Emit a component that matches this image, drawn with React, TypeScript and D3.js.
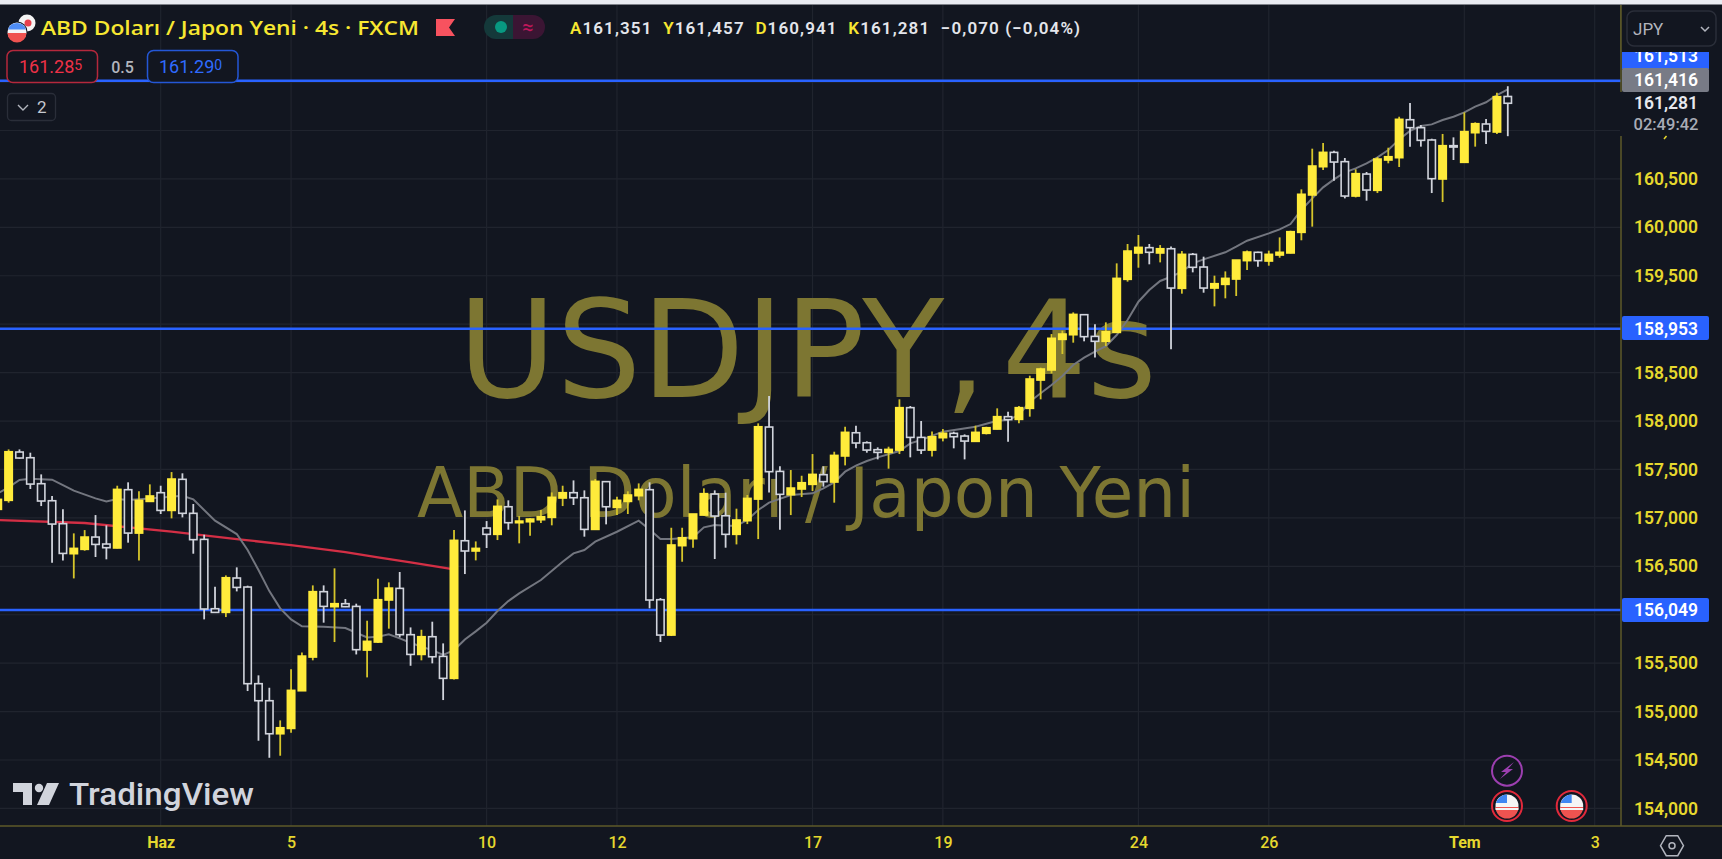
import React, { useRef, useEffect } from 'react';
import * as d3 from 'd3';

const WIDTH = 1722;
const HEIGHT = 859;

// one entry per 4h candle
const opens = [
    157.088, 157.181, 157.680, 157.621, 157.353, 157.177, 156.940, 156.630, 156.675, 156.802,
    156.730, 156.689, 157.291, 156.843, 157.170, 157.260, 157.077, 157.398, 157.047, 156.778,
    156.062, 156.024, 156.379, 156.286, 155.288, 155.112, 154.771, 154.826, 155.215, 155.563,
    156.238, 156.083, 156.114, 156.086, 155.635, 155.718, 156.152, 156.272, 155.794, 155.590,
    155.773, 155.570, 155.343, 156.764, 156.658, 156.895, 156.830, 157.115, 156.950, 156.960,
    156.981, 157.005, 157.205, 157.260, 157.208, 156.881, 157.374, 157.108, 157.170, 157.229,
    157.291, 156.155, 155.790, 156.713, 156.785, 157.029, 157.246, 157.022, 156.830, 156.971,
    157.194, 157.938, 157.480, 157.239, 157.298, 157.346, 157.446, 157.370, 157.639, 157.879,
    157.776, 157.704, 157.676, 157.700, 158.138, 157.831, 157.700, 157.828, 157.873, 157.845,
    157.790, 157.873, 157.917, 158.045, 158.017, 158.131, 158.423, 158.527, 158.843, 158.891,
    159.098, 158.874, 158.823, 158.915, 159.463, 159.735, 159.790, 159.735, 159.779, 159.370,
    159.721, 159.590, 159.373, 159.411, 159.466, 159.656, 159.742, 159.652, 159.714, 159.735,
    159.948, 160.334, 160.626, 160.774, 160.678, 160.323, 160.550, 160.382, 160.695, 160.719,
    161.111, 161.029, 160.902, 160.499, 160.843, 160.671, 160.977, 161.067, 160.984, 161.351,
];
const closes = [
    157.191, 157.683, 157.618, 157.349, 157.174, 156.936, 156.633, 156.685, 156.802, 156.726,
    156.692, 157.294, 156.843, 157.181, 157.226, 157.077, 157.401, 157.047, 156.775, 156.059,
    156.024, 156.382, 156.282, 155.288, 155.112, 154.771, 154.833, 155.219, 155.573, 156.238,
    156.086, 156.114, 156.083, 155.639, 155.725, 156.155, 156.275, 155.794, 155.590, 155.773,
    155.566, 155.343, 156.768, 156.658, 156.685, 156.830, 157.119, 156.950, 156.967, 156.988,
    157.012, 157.212, 157.260, 157.208, 156.881, 157.377, 157.115, 157.181, 157.236, 157.294,
    156.152, 155.790, 156.720, 156.795, 157.040, 157.250, 157.019, 156.830, 156.978, 157.201,
    157.941, 157.477, 157.243, 157.308, 157.363, 157.449, 157.374, 157.645, 157.883, 157.773,
    157.700, 157.676, 157.707, 158.138, 157.831, 157.700, 157.838, 157.873, 157.838, 157.793,
    157.883, 157.931, 158.045, 158.014, 158.138, 158.434, 158.537, 158.854, 158.898, 159.101,
    158.871, 158.823, 158.922, 159.473, 159.755, 159.793, 159.742, 159.779, 159.373, 159.721,
    159.587, 159.373, 159.418, 159.473, 159.662, 159.745, 159.656, 159.721, 159.742, 159.955,
    160.341, 160.633, 160.774, 160.674, 160.323, 160.554, 160.385, 160.705, 160.729, 161.115,
    161.029, 160.898, 160.502, 160.843, 160.829, 160.988, 161.070, 160.991, 161.349, 161.281,
];
const highs = [
    157.253, 157.707, 157.707, 157.673, 157.449, 157.226, 157.088, 156.840, 156.874, 157.029,
    156.923, 157.332, 157.367, 157.274, 157.346, 157.332, 157.473, 157.460, 157.143, 156.826,
    156.289, 156.406, 156.489, 156.300, 155.374, 155.246, 154.909, 155.436, 155.611, 156.303,
    156.303, 156.479, 156.162, 156.114, 155.938, 156.372, 156.334, 156.441, 155.869, 155.845,
    155.928, 155.704, 156.874, 157.077, 156.757, 156.967, 157.191, 157.181, 157.019, 156.995,
    157.081, 157.263, 157.332, 157.387, 157.284, 157.401, 157.380, 157.219, 157.274, 157.356,
    157.367, 156.172, 156.898, 156.898, 157.040, 157.305, 157.284, 157.260, 157.095, 157.236,
    157.976, 158.258, 157.532, 157.494, 157.435, 157.659, 157.532, 157.683, 157.941, 157.952,
    157.790, 157.728, 157.735, 158.224, 158.155, 158.000, 157.893, 157.917, 157.890, 157.862,
    157.952, 157.941, 158.131, 158.096, 158.155, 158.468, 158.551, 158.898, 158.933, 159.122,
    159.105, 158.998, 159.019, 159.628, 159.828, 159.921, 159.828, 159.817, 159.803, 159.755,
    159.735, 159.697, 159.501, 159.545, 159.662, 159.762, 159.748, 159.759, 159.896, 159.965,
    160.392, 160.812, 160.871, 160.791, 160.716, 160.599, 160.571, 160.726, 160.822, 161.142,
    161.284, 161.056, 160.915, 160.964, 160.929, 161.187, 161.084, 161.118, 161.390, 161.457,
];
const lows = [
    157.064, 157.157, 157.611, 157.298, 157.122, 156.537, 156.561, 156.375, 156.661, 156.596,
    156.572, 156.685, 156.744, 156.561, 157.170, 157.040, 156.995, 157.005, 156.630, 155.952,
    156.021, 155.976, 156.241, 155.212, 154.699, 154.523, 154.544, 154.782, 155.212, 155.529,
    155.918, 155.718, 156.079, 155.590, 155.353, 155.708, 155.856, 155.766, 155.473, 155.529,
    155.498, 155.119, 155.332, 156.420, 156.561, 156.689, 156.771, 156.878, 156.737, 156.816,
    156.947, 156.923, 157.122, 157.133, 156.806, 156.878, 156.933, 157.029, 157.040, 157.181,
    156.066, 155.718, 155.780, 156.547, 156.692, 157.026, 156.575, 156.692, 156.726, 156.936,
    156.781, 157.263, 156.878, 157.029, 157.215, 157.277, 157.322, 157.157, 157.542, 157.718,
    157.673, 157.604, 157.508, 157.659, 157.625, 157.659, 157.635, 157.790, 157.718, 157.604,
    157.787, 157.862, 157.914, 157.787, 157.976, 158.045, 158.224, 158.492, 158.692, 158.809,
    158.823, 158.657, 158.774, 158.912, 159.439, 159.583, 159.618, 159.638, 158.740, 159.315,
    159.535, 159.325, 159.184, 159.267, 159.291, 159.559, 159.594, 159.604, 159.686, 159.731,
    159.866, 160.007, 160.592, 160.482, 160.299, 160.309, 160.275, 160.354, 160.661, 160.623,
    160.833, 160.833, 160.354, 160.261, 160.695, 160.667, 160.833, 160.860, 160.964, 160.941,
];

// gray moving average, read at the candles where it bends
const maIndex = [
    0, 1, 2, 3, 5, 6, 7, 9, 10, 11, 12, 14, 17, 18, 20, 22, 23, 24, 25, 26, 27, 28, 30, 32, 33, 34, 35, 36, 37, 38, 39,
    40, 41, 42, 43, 44, 45, 46, 47, 48, 50, 52, 53, 54, 55, 57, 59, 60, 61, 62, 64, 65, 66, 67, 68, 69, 70, 71, 73, 75,
    76, 77, 78, 79, 80, 81, 83, 84, 85, 87, 90, 92, 93, 94, 95, 96, 97, 98, 99, 100, 101, 102, 103, 104, 105, 106, 107,
    108, 109, 110, 111, 113, 114, 115, 117, 118, 119, 120, 121, 122, 123, 124, 125, 126, 127, 128, 129, 130, 131, 132,
    133, 134, 135, 136, 137, 138, 139,
];
const maValues = [
    157.253, 157.315, 157.391, 157.404, 157.394, 157.339, 157.281, 157.201, 157.170, 157.194, 157.184, 157.201, 157.229,
    157.191, 156.971, 156.833, 156.668, 156.461, 156.244, 156.066, 155.952, 155.880, 155.876, 155.862, 155.814, 155.766,
    155.773, 155.797, 155.756, 155.711, 155.670, 155.635, 155.584, 155.635, 155.745, 155.828, 155.918, 156.038, 156.141,
    156.220, 156.358, 156.547, 156.633, 156.668, 156.754, 156.857, 156.971, 156.881, 156.781, 156.781, 156.799, 156.902,
    156.926, 156.919, 156.919, 156.978, 157.081, 157.157, 157.236, 157.253, 157.305, 157.367, 157.477, 157.539, 157.587,
    157.625, 157.690, 157.769, 157.804, 157.890, 157.941, 158.003, 158.010, 158.062, 158.200, 158.286, 158.372, 158.465,
    158.578, 158.654, 158.716, 158.774, 158.888, 159.043, 159.232, 159.353, 159.446, 159.490, 159.542, 159.628, 159.669,
    159.742, 159.800, 159.862, 159.938, 159.979, 160.034, 160.179, 160.299, 160.413, 160.495, 160.568, 160.609, 160.661,
    160.723, 160.798, 160.908, 160.995, 161.046, 161.063, 161.108, 161.142, 161.187, 161.246, 161.291, 161.366, 161.425,
];

// red long average stops at the big June 7 candle
const redIndex = [0, 8, 16, 22, 27, 32, 35, 38, 42];
const redValues = [156.978, 156.947, 156.857, 156.781, 156.719, 156.647, 156.592, 156.540, 156.468];

const priceTicks = [154, 154.5, 155, 155.5, 156, 156.5, 157, 157.5, 158, 158.5, 159, 159.5, 160, 160.5, 161, 161.5];
// these tick labels are hidden by the price tags on the axis
const coveredTicks = [156, 159, 161, 161.5];
const timeTickIndex = [15, 27, 45, 57, 75, 87, 105, 117, 135, 147];
const timeTickLabels = ['Haz', '5', '10', '12', '17', '19', '24', '26', 'Tem', '3'];
const boldTimeLabels = ['Haz', 'Tem'];
const levels = [161.513, 158.953, 156.049];

const BG = '#121620';
const GRID = '#20242e';
const YELLOW = '#ffeb3b';
const YELLOW_WICK = '#d6c52a';
const WHITE = '#d1d4dc';
const AXIS_TEXT = '#e6d82e';
const AXIS_LINE = '#5e5a28';
const BLUE = '#2962ff';
const WATERMARK = '#7d7632';
const UI_FONT = 'Roboto, sans-serif';

const fmt = (v: number) => v.toFixed(3).replace('.', ',');

const App: React.FC = () => {
    const svgRef = useRef<SVGSVGElement | null>(null);

    useEffect(() => {
        if (!svgRef.current) return;
        const svg = d3.select(svgRef.current);
        svg.selectAll('*').remove();

        const plotRight = 1621;
        const plotBottom = 826;

        const x = d3.scaleLinear().domain([15, 147]).range([160.7, 1594.7]);
        const y = d3.scaleLinear().domain([154.5, 161.5]).range([760, 82.05]);

        svg.append('rect').attr('width', WIDTH).attr('height', HEIGHT).attr('fill', BG);
        svg.append('rect').attr('width', WIDTH).attr('height', 4.5).attr('fill', '#e9ebf1');

        // grid
        const grid = svg.append('g');
        priceTicks.forEach((p) => {
            grid.append('line').attr('x1', 0).attr('x2', plotRight).attr('y1', y(p)).attr('y2', y(p)).attr('stroke', GRID).attr('stroke-width', 1.2);
        });
        timeTickIndex.forEach((i) => {
            grid.append('line').attr('x1', x(i)).attr('x2', x(i)).attr('y1', 5).attr('y2', plotBottom).attr('stroke', GRID).attr('stroke-width', 1.2);
        });

        // watermark sits behind the candles
        svg.append('text').attr('x', 458).attr('y', 397).attr('font-family', '"DejaVu Sans", sans-serif').attr('font-size', 136)
            .attr('word-spacing', -28).attr('textLength', 699).attr('lengthAdjust', 'spacingAndGlyphs').attr('fill', WATERMARK).text('USDJPY, 4s');
        svg.append('text').attr('x', 417).attr('y', 517).attr('font-family', '"DejaVu Sans", sans-serif').attr('font-size', 70)
            .attr('textLength', 778).attr('lengthAdjust', 'spacingAndGlyphs').attr('fill', WATERMARK).text('ABD Doları / Japon Yeni');

        // horizontal levels
        levels.forEach((p) => {
            svg.append('line').attr('x1', 0).attr('x2', plotRight).attr('y1', y(p)).attr('y2', y(p)).attr('stroke', BLUE).attr('stroke-width', 2.4);
        });

        // averages
        const lineFn = d3.line<[number, number]>().x((d) => x(d[0])).y((d) => y(d[1]));
        svg.append('path').datum(redIndex.map((d, i) => [d, redValues[i]] as [number, number]))
            .attr('fill', 'none').attr('stroke', '#d32f45').attr('stroke-width', 2.3).attr('d', lineFn);
        svg.append('path').datum(maIndex.map((d, i) => [d, maValues[i]] as [number, number]))
            .attr('fill', 'none').attr('stroke', '#73767f').attr('stroke-width', 2).attr('d', lineFn);

        // candles
        const bodyWidth = 7.4;
        const candles = svg.append('g');
        opens.forEach((o, i) => {
            const c = closes[i];
            const up = c >= o;
            const cx = x(i);
            candles.append('line').attr('x1', cx).attr('x2', cx).attr('y1', y(highs[i])).attr('y2', y(lows[i]))
                .attr('stroke', up ? YELLOW_WICK : WHITE).attr('stroke-width', 1.8);
            const top = y(Math.max(o, c));
            const h = Math.max(Math.abs(y(o) - y(c)), 1);
            candles.append('rect').attr('x', cx - bodyWidth / 2).attr('y', top).attr('width', bodyWidth).attr('height', h)
                .attr('fill', up ? YELLOW : BG).attr('stroke', up ? YELLOW : WHITE).attr('stroke-width', 1.6);
        });

        // price axis
        const yAxis = d3.axisRight(y).tickValues(priceTicks.filter((p) => !coveredTicks.includes(p))).tickSize(0).tickPadding(13).tickFormat((d) => fmt(d as number));
        const yAxisG = svg.append('g').attr('transform', `translate(${plotRight},0)`).call(yAxis);
        yAxisG.select('.domain').remove();
        yAxisG.selectAll('text').attr('fill', AXIS_TEXT).attr('font-family', UI_FONT).attr('font-size', 17.5).attr('font-weight', 600);

        // time axis
        const xAxis = d3.axisBottom(x).tickValues(timeTickIndex).tickSize(0).tickPadding(11)
            .tickFormat((d) => timeTickLabels[timeTickIndex.indexOf(d as number)]);
        const xAxisG = svg.append('g').attr('transform', `translate(0,${plotBottom})`).call(xAxis);
        xAxisG.select('.domain').remove();
        xAxisG.selectAll('text').attr('fill', AXIS_TEXT).attr('font-family', UI_FONT).attr('font-size', 16)
            .attr('font-weight', (d) => (boldTimeLabels.includes(timeTickLabels[timeTickIndex.indexOf(d as number)]) ? 700 : 500));

        svg.append('line').attr('x1', 0).attr('x2', WIDTH).attr('y1', plotBottom).attr('y2', plotBottom).attr('stroke', AXIS_LINE).attr('stroke-width', 1.5);
        svg.append('line').attr('x1', plotRight).attr('x2', plotRight).attr('y1', 5).attr('y2', plotBottom).attr('stroke', AXIS_LINE).attr('stroke-width', 1.5);

        // price labels on the axis
        const axisLabel = (text: string, cy: number, fill: string, size = 17.5, weight = 600) => {
            svg.append('text').attr('x', 1666).attr('y', cy).attr('dy', '0.36em').attr('text-anchor', 'middle')
                .attr('font-family', UI_FONT).attr('font-size', size).attr('font-weight', weight).attr('fill', fill).text(text);
        };
        svg.append('rect').attr('x', plotRight + 1).attr('y', 316).attr('width', 87).attr('height', 24).attr('rx', 2).attr('fill', BLUE);
        axisLabel(fmt(158.953), 328.5, '#ffffff');
        svg.append('rect').attr('x', plotRight + 1).attr('y', 598).attr('width', 87).attr('height', 24).attr('rx', 2).attr('fill', BLUE);
        axisLabel(fmt(156.049), 610, '#ffffff');

        svg.append('rect').attr('x', plotRight - 1).attr('y', 92).attr('width', 100).attr('height', 44).attr('fill', BG);
        svg.append('rect').attr('x', plotRight + 1).attr('y', 46).attr('width', 87).attr('height', 23).attr('fill', BLUE);
        axisLabel(fmt(161.513), 55.5, '#ffffff');
        svg.append('rect').attr('x', plotRight).attr('y', 5).attr('width', 101).attr('height', 47).attr('fill', BG);
        svg.append('line').attr('x1', plotRight).attr('x2', plotRight).attr('y1', 5).attr('y2', 52).attr('stroke', AXIS_LINE).attr('stroke-width', 1.5);
        svg.append('rect').attr('x', plotRight + 1).attr('y', 68).attr('width', 87).attr('height', 24).attr('rx', 2).attr('fill', '#787b86');
        axisLabel('161,416', 79.5, '#ffffff');
        axisLabel('161,281', 103, '#e6e8ee');
        axisLabel('02:49:42', 124, '#a9acb6', 16.5, 500);
        // tail of the 161,000 comma showing under the countdown
        svg.append('path').attr('d', 'M1664 139l2.5 -3').attr('fill', 'none').attr('stroke', AXIS_TEXT).attr('stroke-width', 1.5);

        // currency dropdown
        svg.append('rect').attr('x', 1627).attr('y', 11).attr('width', 89).attr('height', 35).attr('rx', 7).attr('fill', 'none').attr('stroke', '#2a2e39').attr('stroke-width', 1.5);
        svg.append('text').attr('x', 1633).attr('y', 35).attr('font-family', UI_FONT).attr('font-size', 17).attr('fill', '#b2b5be').text('JPY');
        svg.append('path').attr('d', 'M1701 27l4 4l4 -4').attr('fill', 'none').attr('stroke', '#b2b5be').attr('stroke-width', 1.5);

        // legend row
        svg.append('circle').attr('cx', 27).attr('cy', 23).attr('r', 8.5).attr('fill', '#f4f4f4');
        svg.append('circle').attr('cx', 28).attr('cy', 23).attr('r', 3.5).attr('fill', '#e8414d');
        svg.append('circle').attr('cx', 17).attr('cy', 32).attr('r', 10.5).attr('fill', BG);
        svg.append('circle').attr('cx', 17).attr('cy', 32).attr('r', 9.5).attr('fill', '#f5f5f5');
        svg.append('path').attr('d', 'M7.5 33h19a9.5 9.5 0 0 1 -19 0z').attr('fill', '#ef5350');
        svg.append('path').attr('d', 'M8 29.5a9.5 9.5 0 0 1 18 0z').attr('fill', '#4f8df5');

        svg.append('text').attr('x', 41).attr('y', 35).attr('font-family', '"Open Sans", sans-serif').attr('font-size', 20).attr('font-weight', 600)
            .attr('textLength', 378).attr('lengthAdjust', 'spacingAndGlyphs').attr('fill', '#f7e731').text('ABD Doları / Japon Yeni · 4s · FXCM');
        svg.append('path').attr('d', 'M436 19h19l-6 8.5l6 8.5h-19z').attr('fill', '#f7525f');

        svg.append('path').attr('d', 'M513 15h-17a12 12 0 0 0 0 24h17z').attr('fill', '#14393a');
        svg.append('path').attr('d', 'M513 15h20a12 12 0 0 1 0 24h-20z').attr('fill', '#3b1533');
        svg.append('circle').attr('cx', 501).attr('cy', 27).attr('r', 6).attr('fill', '#089981');
        svg.append('text').attr('x', 528).attr('y', 34).attr('text-anchor', 'middle').attr('font-family', UI_FONT).attr('font-size', 20).attr('fill', '#c2185b').text('≈');

        // OHLC readout
        const ohlc = svg.append('text').attr('x', 570).attr('y', 34).attr('font-family', UI_FONT).attr('font-size', 17).attr('font-weight', 600).attr('textLength', 510);
        [['A', '161,351 '], ['Y', '161,457 '], ['D', '160,941 '], ['K', '161,281 ']].forEach(([k, v]) => {
            ohlc.append('tspan').attr('fill', '#f7e731').text(k);
            ohlc.append('tspan').attr('fill', '#e4e6ec').attr('xml:space', 'preserve').text(v + ' ');
        });
        ohlc.append('tspan').attr('fill', '#e4e6ec').text('−0,070 (−0,04%)');

        // bid / ask row
        const box = (bx: number, w: number, stroke: string) => {
            svg.append('rect').attr('x', bx).attr('y', 50.5).attr('width', w).attr('height', 32).attr('rx', 6).attr('fill', BG).attr('stroke', stroke).attr('stroke-width', 1.5);
        };
        box(7, 90.5, '#b5283c');
        box(147.5, 90.5, '#2457d6');
        const quote = (qx: number, big: string, small: string, fill: string) => {
            const t = svg.append('text').attr('x', qx).attr('y', 73).attr('font-family', UI_FONT).attr('font-size', 18).attr('fill', fill);
            t.append('tspan').text(big);
            t.append('tspan').attr('font-size', 14).attr('dy', -3).text(small);
        };
        quote(19, '161.28', '5', '#ee3147');
        quote(159, '161.29', '0', '#2f6bff');
        svg.append('text').attr('x', 122.5).attr('y', 73).attr('text-anchor', 'middle').attr('font-family', UI_FONT).attr('font-size', 16).attr('font-weight', 500).attr('fill', '#b2b5be').text('0.5');

        svg.append('rect').attr('x', 7.5).attr('y', 93.5).attr('width', 48).attr('height', 27).attr('rx', 4).attr('fill', BG).attr('stroke', '#2a2e39').attr('stroke-width', 1.3);
        svg.append('path').attr('d', 'M18 105l5 5l5 -5').attr('fill', 'none').attr('stroke', '#b2b5be').attr('stroke-width', 1.4);
        svg.append('text').attr('x', 37).attr('y', 113).attr('font-family', UI_FONT).attr('font-size', 17).attr('fill', '#c5c8d0').text('2');

        // TradingView logo
        svg.append('path').attr('d', 'M13 783h19v22h-9v-13h-10z').attr('fill', '#d1d4dc');
        svg.append('circle').attr('cx', 39).attr('cy', 788).attr('r', 4.2).attr('fill', '#d1d4dc');
        svg.append('path').attr('d', 'M47 783h12l-10 22h-12z').attr('fill', '#d1d4dc');
        svg.append('text').attr('x', 69).attr('y', 805).attr('font-family', UI_FONT).attr('font-size', 31).attr('font-weight', 500)
            .attr('textLength', 185).attr('lengthAdjust', 'spacingAndGlyphs').attr('fill', '#d1d4dc').text('TradingView');

        // event markers
        const flag = (cx: number, cy: number) => {
            svg.append('circle').attr('cx', cx).attr('cy', cy).attr('r', 15).attr('fill', BG).attr('stroke', '#e2293b').attr('stroke-width', 2);
            svg.append('circle').attr('cx', cx).attr('cy', cy).attr('r', 11.5).attr('fill', '#f5f5f5');
            svg.append('path').attr('d', `M${cx - 11.5} ${cy + 1}h23a11.5 11.5 0 0 1 -23 0z`).attr('fill', '#ef5350');
            svg.append('path').attr('d', `M${cx - 11.5} ${cy + 4}h23v-2h-23z`).attr('fill', '#f5f5f5');
            svg.append('path').attr('d', `M${cx - 11} ${cy - 3}a11.5 11.5 0 0 1 11 -8.5v8.5z`).attr('fill', '#3f86f2');
        };
        svg.append('circle').attr('cx', 1507).attr('cy', 770.7).attr('r', 15).attr('fill', BG).attr('stroke', '#9c3fb0').attr('stroke-width', 2);
        svg.append('path').attr('d', 'M1514 762l-13 10h5l-6 7l13 -10h-5z').attr('fill', '#9c3fb0');
        flag(1507, 806);
        flag(1571.7, 806);

        // settings hexagon
        const hex = d3.range(6).map((k) => {
            const a = (Math.PI / 3) * k;
            return [1672 + 11.5 * Math.cos(a), 845.7 + 11.5 * Math.sin(a)] as [number, number];
        });
        svg.append('path').attr('d', `${d3.line()(hex)}Z`).attr('fill', 'none').attr('stroke', '#b2b5be').attr('stroke-width', 1.5);
        svg.append('circle').attr('cx', 1672).attr('cy', 845.7).attr('r', 3).attr('fill', 'none').attr('stroke', '#b2b5be').attr('stroke-width', 1.5);
    }, []);

    return <svg ref={svgRef} width={WIDTH} height={HEIGHT} style={{ position: 'absolute', left: 0, top: 0, display: 'block' }} />;
};

export default App;
